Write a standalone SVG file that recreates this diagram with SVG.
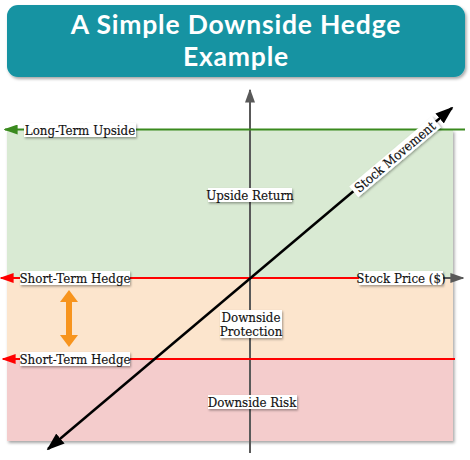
<svg xmlns="http://www.w3.org/2000/svg" width="470" height="460" viewBox="0 0 470 460">
<style>
.lbl{font-family:"DejaVu Serif Condensed","DejaVu Serif","Liberation Serif",serif;font-size:13.2px;fill:#111;stroke:#111;stroke-width:0.15;text-anchor:middle;dominant-baseline:central}
.box{fill:#ffffff;filter:url(#sh)}
.title{font-family:Lato,"Noto Sans",sans-serif;font-weight:bold;font-size:26.5px;letter-spacing:0.8px;fill:#ffffff;text-anchor:middle}
</style>
<defs>
<filter id="sh" x="-20%" y="-30%" width="140%" height="170%">
<feDropShadow dx="1" dy="1.5" stdDeviation="1.2" flood-color="#000" flood-opacity="0.35"/>
</filter>
<filter id="sh2" x="-5%" y="-5%" width="110%" height="115%">
<feDropShadow dx="1.5" dy="2" stdDeviation="1.5" flood-color="#000" flood-opacity="0.35"/>
</filter>
<marker id="ag" viewBox="0 0 10 10" refX="9" refY="5" markerWidth="14" markerHeight="10" markerUnits="userSpaceOnUse" orient="auto-start-reverse" preserveAspectRatio="none"><path d="M0,0 L10,5 L0,10 z" fill="#3a8a1e"/></marker>
<marker id="ar" viewBox="0 0 10 10" refX="9" refY="5" markerWidth="14" markerHeight="10" markerUnits="userSpaceOnUse" orient="auto-start-reverse" preserveAspectRatio="none"><path d="M0,0 L10,5 L0,10 z" fill="#ff0000"/></marker>
<marker id="agr" viewBox="0 0 10 10" refX="9" refY="5" markerWidth="14" markerHeight="10" markerUnits="userSpaceOnUse" orient="auto-start-reverse" preserveAspectRatio="none"><path d="M0,0 L10,5 L0,10 z" fill="#595959"/></marker>
<marker id="ab" viewBox="0 0 10 10" refX="9" refY="5" markerWidth="18" markerHeight="13" markerUnits="userSpaceOnUse" orient="auto-start-reverse" preserveAspectRatio="none"><path d="M0,0 L10,5 L0,10 z" fill="#000"/></marker>
</defs>

<g id="title">
<rect x="7" y="5" width="458" height="72" rx="11" fill="#1393a2" filter="url(#sh2)"/>
<text class="title" x="236" y="34">A Simple Downside Hedge</text>
<text class="title" x="236" y="66">Example</text>
</g>

<g id="zones" filter="url(#sh2)">
<rect id="upside-zone" x="7" y="130" width="446" height="149" fill="#d9ead3"/>
<rect id="protection-zone" x="7" y="279" width="446" height="80" fill="#fce5cd"/>
<rect id="risk-zone" x="7" y="359" width="446" height="82" fill="#f4cccc"/>
</g>

<g id="connectors">
<line id="y-axis" x1="250" y1="453" x2="250" y2="90" stroke="#595959" stroke-width="2" marker-end="url(#agr)"/>
<line id="x-axis" x1="250" y1="278" x2="463" y2="278" stroke="#595959" stroke-width="2" marker-end="url(#agr)"/>
<line id="long-term-line" x1="465" y1="129.5" x2="5" y2="129.5" stroke="#3a8a1e" stroke-width="2" marker-end="url(#ag)"/>
<line id="hedge-top" x1="443" y1="278" x2="1" y2="278" stroke="#ff0000" stroke-width="2" marker-end="url(#ar)"/>
<line id="hedge-bottom" x1="455" y1="359" x2="3" y2="359" stroke="#ff0000" stroke-width="2" marker-end="url(#ar)"/>
<line id="stock-movement" x1="48" y1="449" x2="452" y2="108" stroke="#000" stroke-width="2.5" marker-start="url(#ab)" marker-end="url(#ab)"/>
<g id="range-arrow" fill="#f7941d">
<rect x="66" y="300" width="6" height="37"/>
<path d="M60,302 L69,290 L78,302 z"/>
<path d="M60,335 L69,347 L78,335 z"/>
</g>
</g>

<g id="label-long-term">
<rect class="box" x="24" y="123" width="112" height="14"/>
<text class="lbl" x="80" y="130">Long-Term Upside</text>
</g>
<g id="label-upside-return">
<rect class="box" x="208" y="188" width="84" height="14"/>
<text class="lbl" x="250" y="195">Upside Return</text>
</g>
<g id="label-stock-movement" transform="translate(395,157) rotate(-40.2)">
<rect class="box" x="-54" y="-7" width="108" height="14"/>
<text class="lbl" x="0" y="0">Stock Movement</text>
</g>
<g id="label-hedge-top">
<rect class="box" x="20" y="271" width="110" height="14"/>
<text class="lbl" x="75" y="278">Short-Term Hedge</text>
</g>
<g id="label-stock-price">
<rect class="box" x="359" y="271" width="84" height="14"/>
<text class="lbl" x="401" y="278">Stock Price ($)</text>
</g>
<g id="label-protection">
<rect class="box" x="220" y="310" width="62" height="28"/>
<text class="lbl" x="251" y="317.5">Downside</text>
<text class="lbl" x="251" y="331">Protection</text>
</g>
<g id="label-hedge-bottom">
<rect class="box" x="20" y="352" width="110" height="14"/>
<text class="lbl" x="75" y="359">Short-Term Hedge</text>
</g>
<g id="label-risk">
<rect class="box" x="208" y="395" width="89" height="14"/>
<text class="lbl" x="252" y="402">Downside Risk</text>
</g>
</svg>
